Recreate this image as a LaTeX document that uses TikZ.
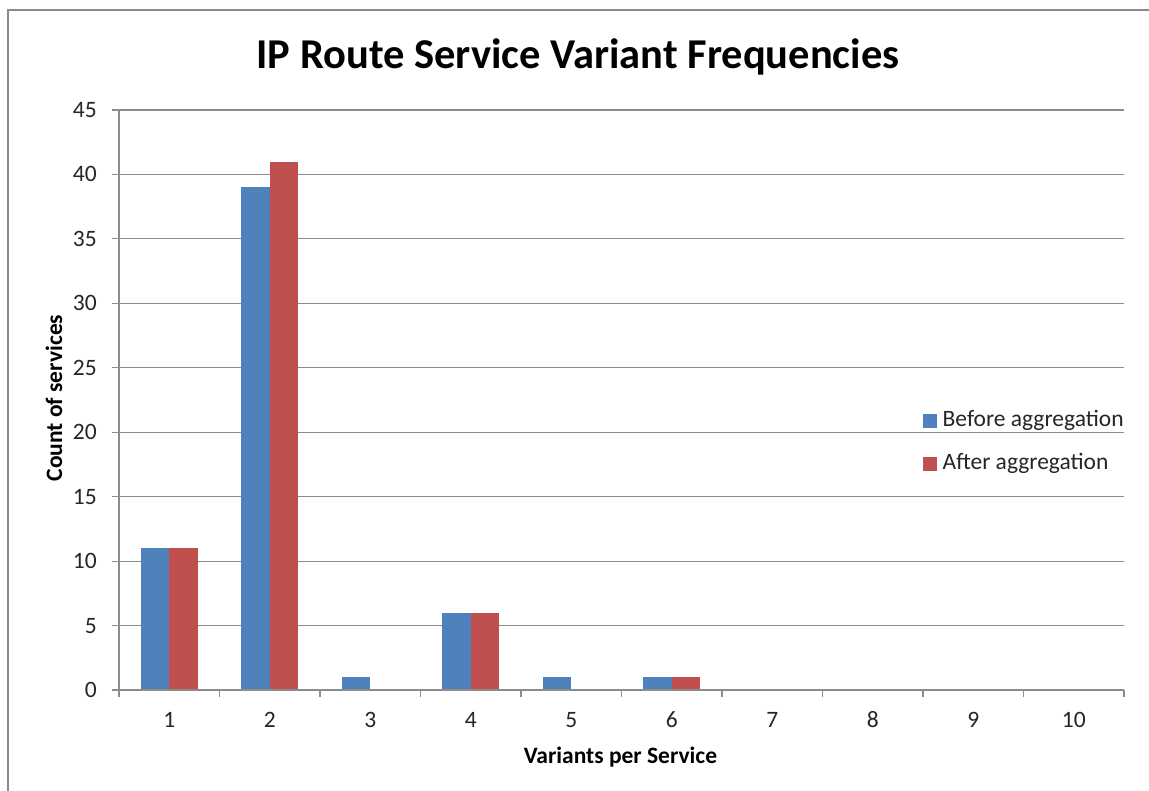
\documentclass[tikz,border=0pt]{standalone}
\usepackage{fontspec}
\setmainfont{Carlito}
\definecolor{barblue}{HTML}{4F81BD}
\definecolor{barred}{HTML}{C0504D}
\definecolor{gridgray}{HTML}{8C8C8C}
\definecolor{framegray}{HTML}{8A8A8A}
\begin{document}
\begin{tikzpicture}[x=1pt,y=-1pt,
  gridline/.style={draw=gridgray,line width=1.2pt},
  axisline/.style={draw=gridgray,line width=1.4pt},
  ticklab/.style={font=\fontsize{23.5}{26}\selectfont,text=black!85,inner sep=0pt},
  axtitle/.style={font=\fontsize{23.5}{26}\selectfont\bfseries,inner sep=0pt},
  bluebar/.style={fill=barblue,draw=none},
  redbar/.style={fill=barred,draw=none},
  legtext/.style={font=\fontsize{23.5}{26}\selectfont,text=black!85,inner sep=0pt,anchor=west}]
\useasboundingbox (0,0) rectangle (1149,791);
\fill[white] (0,0) rectangle (1149,791);
% frame (top and left edges visible)
\draw[framegray,line width=2pt] (8,791) -- (8,10) -- (1149,10);
% title
\node[font=\fontsize{42.5}{48}\selectfont\bfseries,inner sep=0pt] (title) at (578,57) {IP Route Service Variant Frequencies};
% grid lines and y labels
\foreach \v in {5,10,...,45}{
  \draw[gridline] (112,{690-\v*12.8889}) -- (1124,{690-\v*12.8889});
}
\foreach \v in {0,5,...,45}{
  \node[ticklab,anchor=east] (y\v) at (97,{690-\v*12.8889}) {\v};
}
% bars
\foreach \k/\b/\a in {1/11/11,2/39/41,3/1/0,4/6/6,5/1/0,6/1/1,7/0/0,8/0/0,9/0/0,10/0/0}{
  \pgfmathsetmacro{\c}{119+100.5*(\k-0.5)}
  \ifnum\b>0 \fill[bluebar] ({\c-28.4},690) rectangle (\c,{690-\b*12.8889}); \fi
  \ifnum\a>0 \fill[redbar] (\c,690) rectangle ({\c+28.6},{690-\a*12.8889}); \fi
  \node[ticklab] (x\k) at (\c,720) {\k};
}
% axes
\draw[axisline] (119,109.5) -- (119,690);
\draw[axisline] (112,690) -- (1124,690);
\foreach \k in {0,...,10}{
  \draw[axisline] ({119+100.5*\k},690) -- ({119+100.5*\k},697);
}
% axis titles
\node[axtitle,rotate=90] (ytitle) at (54,398) {Count of services};
\node[axtitle] (xtitle) at (620.5,757) {Variants per Service};
% legend
\fill[barblue] (923,414) rectangle (937,428);
\node[legtext] (leg1) at (942.5,420) {Before aggregation};
\fill[barred] (923,457) rectangle (937,471);
\node[legtext] (leg2) at (942.5,463.5) {After aggregation};
\end{tikzpicture}
\end{document}
